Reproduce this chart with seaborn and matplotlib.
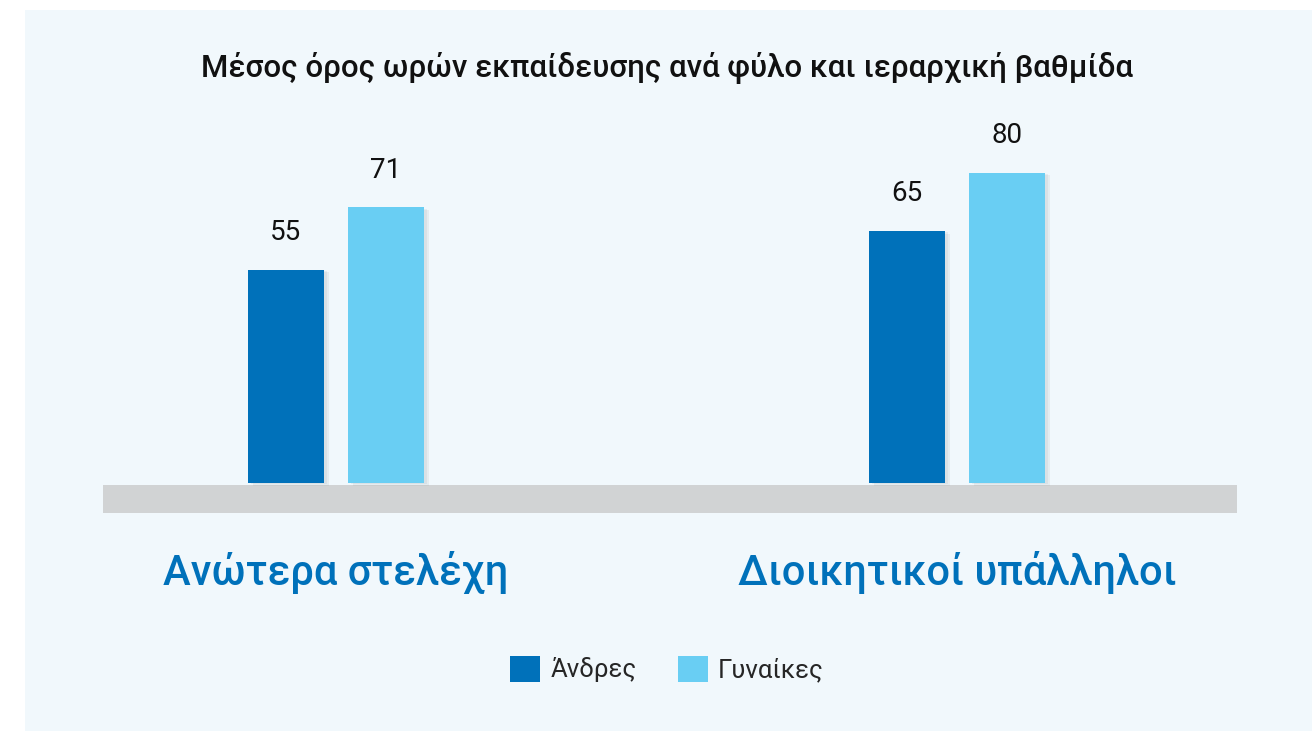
import matplotlib
matplotlib.use("Agg")
import matplotlib.pyplot as plt
import matplotlib.patheffects as pe
from matplotlib.patches import Rectangle
import pandas as pd
import seaborn as sns

# data
categories = ["Ανώτερα στελέχη", "Διοικητικοί υπάλληλοι"]
genders = ["Άνδρες", "Γυναίκες"]
men_hours = [55, 65]
women_hours = [71, 80]

title = "Μέσος όρος ωρών εκπαίδευσης ανά φύλο και ιεραρχική βαθμίδα"

colors = {"Άνδρες": "#0071BA", "Γυναίκες": "#69CEF3"}
panel_bg = "#F1F8FC"
band_color = "#D1D3D4"

df = pd.DataFrame({
    "category": categories * 2,
    "gender": [genders[0]] * len(categories) + [genders[1]] * len(categories),
    "hours": men_hours + women_hours,
})

sns.set_theme(style="white")
plt.rcParams["font.family"] = ["Roboto", "DejaVu Sans"]

W, H = 1312, 731
fig = plt.figure(figsize=(W / 100, H / 100), dpi=100)
fig.patch.set_facecolor("white")
fig.patches.append(Rectangle((25 / W, 0), 1 - 25 / W, 1 - 10 / H,
                             transform=fig.transFigure, facecolor=panel_bg,
                             edgecolor="none", zorder=-5))

ax = fig.add_axes([103 / W, 218 / H, 1134 / W, 413 / H])
ax.set_facecolor("none")
ax.set_zorder(2)

sns.barplot(data=df, x="category", y="hours", hue="gender", palette=colors,
            width=0.322, gap=0.24, saturation=1, legend=False, linewidth=0,
            ax=ax, zorder=3)

# soft shadow on the right of the bars
shadow = [pe.SimplePatchShadow(offset=(4, -2), shadow_rgbFace="#9aa3a8", alpha=0.14),
          pe.SimplePatchShadow(offset=(2, -1), shadow_rgbFace="#9aa3a8", alpha=0.14),
          pe.Normal()]
for bar in ax.patches:
    bar.set_path_effects(shadow)

for cont in ax.containers:
    ax.bar_label(cont, padding=17, fontsize=20, color="#111111")

ax.axhspan(-7.73, -0.5, color=band_color, zorder=1, lw=0)
ax.set_ylim(-7.73, 98.7)
ax.set_xlim(-0.375, 1.451)

for s in ax.spines.values():
    s.set_visible(False)
ax.set_yticks([])
ax.set_xlabel("")
ax.set_ylabel("")
ax.tick_params(axis="x", length=0, pad=27)
for lab in ax.get_xticklabels():
    lab.set_fontsize(30)
    lab.set_color("#0071BA")
    lab.set_fontweight("medium")

fig.text(667 / W, 1 - 68 / H, title, ha="center", va="center",
         fontsize=22.5, fontweight="medium", color="#111111")

handles = [Rectangle((0, 0), 1, 1, facecolor=colors[g], edgecolor="none") for g in genders]
fig.legend(handles, genders, loc="center", bbox_to_anchor=(667 / W, 1 - 669 / H),
           ncol=2, frameon=False, fontsize=18.5, handlelength=1.17, handleheight=1.17,
           handletextpad=0.4, columnspacing=1.6)

fig.savefig("out.png", dpi=100, facecolor="white")
